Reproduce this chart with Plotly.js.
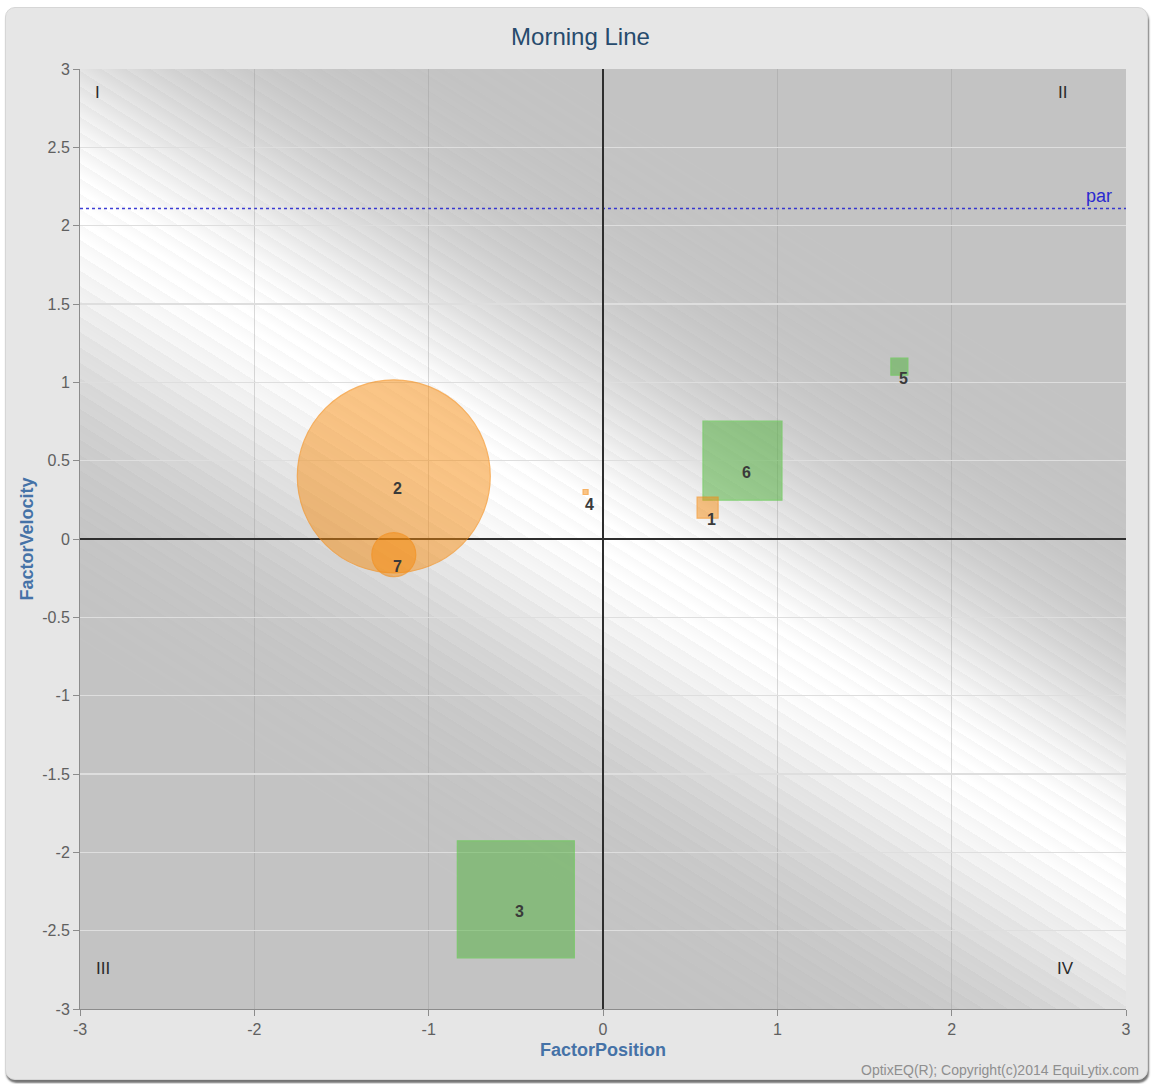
<!DOCTYPE html>
<html>
<head>
<meta charset="utf-8">
<script src="https://cdn.plot.ly/plotly-3.0.1.min.js"></script>
<style>
  html, body { margin: 0; padding: 0; background: #ffffff; }
  #frame { position: absolute; left: 5px; top: 7px; width: 1141px; height: 1071px;
           background: #e6e6e6; border: 1px solid #d6d6d6; border-radius: 10px;
           box-shadow: 1px 3px 2px rgba(0,0,0,0.55); }
  #chart { position: absolute; left: 0; top: 0; width: 1154px; height: 1084px; }
</style>
</head>
<body>
<div id="frame"></div>
<div id="chart"></div>
<script>
// ---- data ----
const horseLabels    = ['1', '2', '3', '4', '5', '6', '7'];
const factorPosition = [0.6, -1.2, -0.5, -0.1, 1.7, 0.8, -1.2];
const factorVelocity = [0.2, 0.4, -2.3, 0.3, 1.1, 0.5, -0.1];
const bubbleWeight   = [21, 193, 117, 5, 17, 79, 44];
const markerShape    = ['square', 'circle', 'square', 'square', 'square', 'square', 'circle'];
const markerTone     = ['orange', 'orange', 'green', 'orange', 'green', 'green', 'orange'];
const parValue = 2.11;
const parLabel = 'par';
const quadrantLabels = ['I', 'II', 'III', 'IV'];
const xTickVals = [-3, -2, -1, 0, 1, 2, 3];
const xTickText = ['-3', '-2', '-1', '0', '1', '2', '3'];
const yTickVals = [-3, -2.5, -2, -1.5, -1, -0.5, 0, 0.5, 1, 1.5, 2, 2.5, 3];
const yTickText = ['-3', '-2.5', '-2', '-1.5', '-1', '-0.5', '0', '0.5', '1', '1.5', '2', '2.5', '3'];
const chartTitle = 'Morning Line';
const xTitle = 'FactorPosition';
const yTitle = 'FactorVelocity';
const footer = 'OptixEQ(R); Copyright(c)2014 EquiLytix.com';

// ---- styles ----
const FONT = '"Liberation Sans", Arial, Helvetica, sans-serif';
const toneStyle = {
  green:  { fill: 'rgba(82,178,62,0.74)',  line: 'rgba(95,200,75,0.95)' },
  orange: { fill: 'rgba(247,138,12,0.70)', line: 'rgba(245,140,20,0.9)' }
};

// plot-area size in px
const W = 1046, H = 940;

// background: gray with diagonal white shine band
function makeBackground() {
  const c = document.createElement('canvas');
  c.width = W; c.height = H;
  const ctx = c.getContext('2d');
  const img = ctx.createImageData(W, H);
  const slope = 0.63, y0 = 140;
  const norm = Math.sqrt(1 + slope * slope);
  const nx = -slope / norm, ny = 1 / norm;
  let k = 0;
  for (let y = 0; y < H; y++) {
    for (let x = 0; x < W; x++) {
      const d = x * nx + (y - y0) * ny;
      const ad = Math.abs(d);
      let v = 195 + 58 * Math.exp(-(ad * ad) / (2 * 105 * 105));
      const amp = 9 * Math.exp(-(ad * ad) / (2 * 170 * 170));
      const ph = (((d % 13) + 13) % 13) / 13;
      v += amp * (ph - 0.5);
      v = Math.max(0, Math.min(255, v));
      img.data[k++] = v; img.data[k++] = v; img.data[k++] = v; img.data[k++] = 255;
    }
  }
  ctx.putImageData(img, 0, 0);
  return c.toDataURL('image/png');
}

// ---- traces ----
function buildTrace(tone) {
  const idx = horseLabels.map((_, i) => i).filter(i => markerTone[i] === tone);
  return {
    type: 'scatter', mode: 'markers', hoverinfo: 'skip', showlegend: false,
    x: idx.map(i => factorPosition[i]),
    y: idx.map(i => factorVelocity[i]),
    marker: {
      size: idx.map(i => bubbleWeight[i]),
      sizemode: 'diameter', sizeref: 1,
      symbol: idx.map(i => markerShape[i]),
      color: toneStyle[tone].fill,
      line: { color: toneStyle[tone].line, width: 1.2 }
    }
  };
}
const traces = [buildTrace('green'), buildTrace('orange')];

// ---- annotations ----
const annotations = [];
horseLabels.forEach((lab, i) => {
  annotations.push({
    x: factorPosition[i], y: factorVelocity[i], xref: 'x', yref: 'y',
    text: '<b>' + lab + '</b>', showarrow: false, xshift: 4, yshift: -12,
    font: { family: FONT, size: 16, color: '#3a3a3a' }
  });
});
const quadPos = [
  { x: 0.0172, y: 0.9745 }, { x: 0.939, y: 0.9745 },
  { x: 0.022, y: 0.0436 }, { x: 0.9417, y: 0.0436 }
];
quadrantLabels.forEach((q, i) => {
  annotations.push({
    x: quadPos[i].x, y: quadPos[i].y, xref: 'paper', yref: 'paper',
    text: q, showarrow: false, xanchor: 'center', yanchor: 'middle',
    font: { family: FONT, size: 17, color: '#2a2a2a' }
  });
});
annotations.push({
  x: 3, y: parValue, xref: 'x', yref: 'y', text: parLabel, showarrow: false,
  xanchor: 'right', yanchor: 'middle', xshift: -12, yshift: 12,
  font: { family: FONT, size: 18, color: '#2a2ad0' }
});
annotations.push({
  x: 1.0143, y: -0.0649, xref: 'paper', yref: 'paper', text: footer, showarrow: false,
  xanchor: 'right', yanchor: 'middle',
  font: { family: FONT, size: 14, color: '#8f8f8f' }
});

const axisCommon = {
  showline: true, linecolor: '#8c8c8c', linewidth: 1,
  ticks: 'outside', ticklen: 6, tickcolor: '#8c8c8c', tickwidth: 1,
  zeroline: true, zerolinecolor: '#2e2e2e', zerolinewidth: 2,
  tickfont: { family: FONT, size: 16, color: '#606060' },
  fixedrange: true, mirror: false
};

const layout = {
  width: 1154, height: 1084,
  margin: { l: 80, r: 28, t: 69, b: 75, pad: 0 },
  paper_bgcolor: 'rgba(0,0,0,0)',
  plot_bgcolor: '#c3c3c3',
  title: {
    text: chartTitle, x: 0.503, xref: 'container', xanchor: 'center',
    y: 0.9659, yref: 'container', yanchor: 'middle',
    font: { family: FONT, size: 24, color: '#274b6d' }
  },
  xaxis: Object.assign({}, axisCommon, {
    range: [-3, 3], tickmode: 'array', tickvals: xTickVals, ticktext: xTickText,
    gridcolor: 'rgba(150,150,150,0.35)', gridwidth: 1,
    title: { text: '<b>' + xTitle + '</b>', standoff: 6,
             font: { family: FONT, size: 18, color: '#4572a7' } }
  }),
  yaxis: Object.assign({}, axisCommon, {
    range: [-3, 3], tickmode: 'array', tickvals: yTickVals, ticktext: yTickText,
    gridcolor: '#dedede', gridwidth: 1.5,
    title: { text: '<b>' + yTitle + '</b>', standoff: 3,
             font: { family: FONT, size: 18, color: '#4572a7' } }
  }),
  shapes: [{
    type: 'line', xref: 'paper', x0: 0, x1: 1, yref: 'y', y0: parValue, y1: parValue,
    line: { color: 'rgba(40,40,210,0.9)', width: 1.5, dash: 'dot' }, layer: 'below'
  }],
  images: [{
    source: makeBackground(), xref: 'paper', yref: 'paper', x: 0, y: 1,
    sizex: 1, sizey: 1, xanchor: 'left', yanchor: 'top', sizing: 'stretch', layer: 'below'
  }],
  annotations: annotations,
  hovermode: false
};

Plotly.newPlot('chart', traces, layout, { displayModeBar: false, staticPlot: true });
</script>
</body>
</html>
